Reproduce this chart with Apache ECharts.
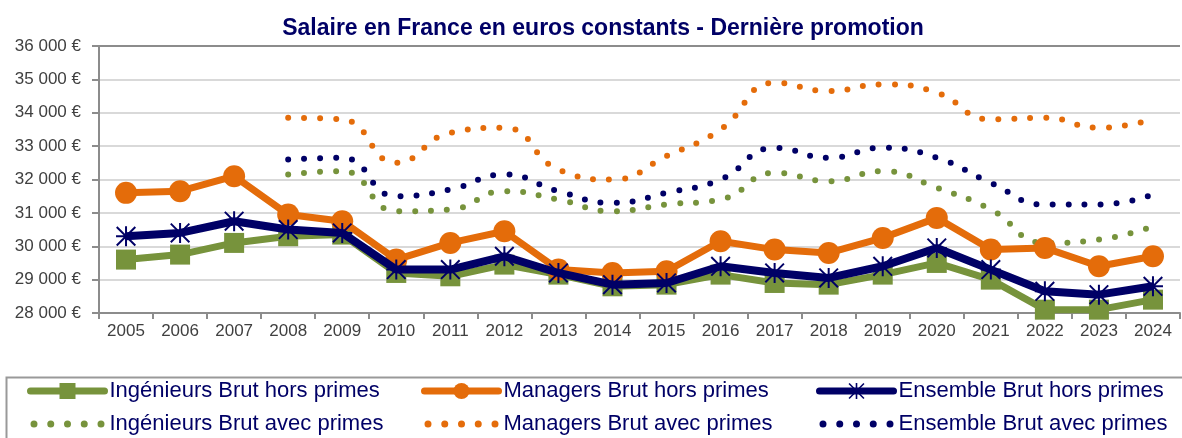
<!DOCTYPE html>
<html>
<head>
<meta charset="utf-8">
<script src="https://cdn.jsdelivr.net/npm/echarts@6/dist/echarts.min.js"></script>
<style>
  html, body { margin: 0; padding: 0; background: #fff; }
  #chart { width: 1182px; height: 438px; }
</style>
</head>
<body>
<div id="chart"></div>
<script>
// années
var years = ['2005', '2006', '2007', '2008', '2009', '2010', '2011', '2012', '2013', '2014',
  '2015', '2016', '2017', '2018', '2019', '2020', '2021', '2022', '2023', '2024']

// salaires hors primes
var ingHors = [29600, 29750, 30100, 30300, 30350, 29200, 29100, 29450, 29150, 28800,
  28850, 29150, 28900, 28850, 29150, 29500, 29000, 28100, 28100, 28400]
var manHors = [31600, 31650, 32100, 30950, 30750, 29600, 30100, 30450, 29300, 29200,
  29250, 30150, 29900, 29800, 30250, 30850, 29900, 29950, 29400, 29700]
var ensHors = [30300, 30400, 30750, 30500, 30400, 29300, 29300, 29700, 29200, 28850,
  28900, 29400, 29200, 29050, 29400, 29950, 29300, 28650, 28550, 28800]

// salaires avec primes (à partir de 2008)
var ingAvec = [null, null, null, 32150, 32250, 31050, 31100, 31650, 31400, 31050,
  31250, 31400, 32200, 31950, 32250, 31750, 31100, 30100, 30200, 30600]
var manAvec = [null, null, null, 33850, 33800, 32500, 33400, 33550, 32300, 32000,
  32700, 33500, 34900, 34650, 34850, 34600, 33800, 33850, 33550, 33800]
var ensAvec = [null, null, null, 32600, 32650, 31500, 31700, 32150, 31650, 31300,
  31600, 32000, 32950, 32650, 32950, 32650, 31900, 31250, 31250, 31550]

var GREEN = '#77933c'
var ORANGE = '#e46c0a'
var NAVY = '#000066'
var FONT = '"Liberation Sans", Arial, sans-serif'

var asterisk = 'path://M45,0L55,0L55,100L45,100Z M0,45L100,45L100,55L0,55Z ' +
  'M0,7L7,0L100,93L93,100Z M93,0L100,7L7,100L0,93Z'

// icône de légende : 5 points
var dots = 'path://'
for (var d = 0; d < 5; d++) {
  var cx = 3.5 + d * 16.75
  dots += 'M' + (cx - 3.5) + ',3.5A3.5,3.5 0 1,1 ' + (cx + 3.5) + ',3.5A3.5,3.5 0 1,1 ' + (cx - 3.5) + ',3.5Z '
}

var fmtEuro = function (v) {
  return String(v).replace(/\B(?=(\d{3})+(?!\d))/g, ' ') + ' €'
}

var gridColors = []
for (var i = 0; i < 8; i++) gridColors.push('#d9d9d9')
gridColors.push('#8c8c8c')

var dotted = function (name, data, color) {
  return {
    name: name, type: 'line', data: data, smooth: 0.5,
    symbol: 'none', connectNulls: false,
    lineStyle: { color: color, width: 6, type: [0, 16], cap: 'round' },
    itemStyle: { color: color },
    z: 1
  }
}

var legendBase = {
  orient: 'vertical', top: 380, height: 120, padding: 0,
  itemWidth: 74, itemHeight: 20, itemGap: 11, itemTextGap: 4,
  textStyle: { fontFamily: FONT, fontSize: 22, lineHeight: 22, color: NAVY }
}

var legendItems = function (hors, avec) {
  return [
    { name: hors, lineStyle: { width: 7, cap: 'round' } },
    { name: avec, icon: dots }
  ]
}

var chart = echarts.init(document.getElementById('chart'))
chart.setOption({
  animation: false,
  title: {
    text: 'Salaire en France en euros constants - Dernière promotion',
    left: 598, top: 12, textAlign: 'center',
    textStyle: { fontFamily: FONT, fontSize: 23, fontWeight: 'bold', color: NAVY }
  },
  grid: { left: 99, right: 2, top: 46, bottom: 125 },
  legend: [
    Object.assign({ left: 27, data: legendItems('Ingénieurs Brut hors primes', 'Ingénieurs Brut avec primes') }, legendBase),
    Object.assign({ left: 421, data: legendItems('Managers Brut hors primes', 'Managers Brut avec primes') }, legendBase),
    Object.assign({ left: 816, data: legendItems('Ensemble Brut hors primes', 'Ensemble Brut avec primes') }, legendBase)
  ],
  graphic: [{
    type: 'rect', left: 4, top: 375,
    shape: { width: 1180, height: 70 },
    style: { fill: 'none', stroke: '#999', lineWidth: 2 }
  }],
  xAxis: {
    type: 'category', data: years, boundaryGap: true,
    axisLine: { lineStyle: { color: '#8c8c8c', width: 2 } },
    axisTick: { show: true, length: 6, lineStyle: { color: '#8c8c8c', width: 2 } },
    axisLabel: { margin: 10, fontFamily: FONT, fontSize: 17, color: '#404040' }
  },
  yAxis: {
    type: 'value', min: 28000, max: 36000, interval: 1000,
    axisLine: { show: true, lineStyle: { color: '#8c8c8c', width: 2 } },
    axisTick: { show: true, length: 7, lineStyle: { color: '#8c8c8c', width: 2 } },
    axisLabel: { margin: 18, fontFamily: FONT, fontSize: 17, color: '#404040', formatter: fmtEuro },
    splitLine: { lineStyle: { color: gridColors, width: 2 } }
  },
  series: [
    dotted('Ingénieurs Brut avec primes', ingAvec, GREEN),
    dotted('Managers Brut avec primes', manAvec, ORANGE),
    dotted('Ensemble Brut avec primes', ensAvec, NAVY),
    {
      name: 'Ingénieurs Brut hors primes', type: 'line', data: ingHors,
      symbol: 'rect', symbolSize: 20,
      lineStyle: { color: GREEN, width: 7 }, itemStyle: { color: GREEN }, z: 2
    },
    {
      name: 'Managers Brut hors primes', type: 'line', data: manHors,
      symbol: 'circle', symbolSize: 22,
      lineStyle: { color: ORANGE, width: 7 }, itemStyle: { color: ORANGE }, z: 3
    },
    {
      name: 'Ensemble Brut hors primes', type: 'line', data: ensHors,
      symbol: asterisk, symbolSize: 20,
      lineStyle: { color: NAVY, width: 8 }, itemStyle: { color: NAVY }, z: 4
    }
  ]
})
</script>
</body>
</html>
